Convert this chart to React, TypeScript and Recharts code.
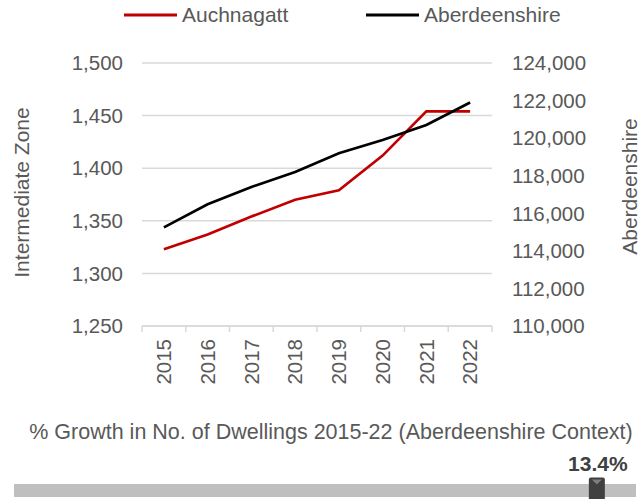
import {
  LineChart,
  Line,
  XAxis,
  YAxis,
  CartesianGrid,
  Legend,
  ComposedChart,
  Bar,
  ReferenceDot,
} from 'recharts';

const years = ['2015', '2016', '2017', '2018', '2019', '2020', '2021', '2022'];
const auchnagatt = [1323, 1337, 1354, 1370, 1379, 1412, 1454, 1454];
const aberdeenshire = [115250, 116480, 117400, 118200, 119200, 119900, 120700, 121900];
const leftTicks = [1250, 1300, 1350, 1400, 1450, 1500];
const rightTicks = [110000, 112000, 114000, 116000, 118000, 120000, 122000, 124000];

// bottom strip: growth scale and where this area sits on it
const growthTrackMax = 14.3;
const growthValue = 13.4;

const TEXT = '#595959';
const GRID = '#d9d9d9';
const FONT = '"Liberation Sans", Arial, sans-serif';
const HALF_BAND = 21.9;

const chartData = years.map((year, i) => ({
  year,
  Auchnagatt: auchnagatt[i],
  Aberdeenshire: aberdeenshire[i],
}));

const fmt = (v: number) => v.toLocaleString('en-US');

// Year labels read bottom-to-top, with Excel-style tick marks between categories
function YearTick(props: any) {
  const { x, y, payload, index } = props;
  return (
    <g>
      <line x1={x - HALF_BAND} x2={x - HALF_BAND} y1={y - 8} y2={y - 2} stroke={GRID} strokeWidth={1.5} />
      {index === years.length - 1 && (
        <line x1={x + HALF_BAND} x2={x + HALF_BAND} y1={y - 8} y2={y - 2} stroke={GRID} strokeWidth={1.5} />
      )}
      <text
        x={x}
        y={y + 5}
        transform={`rotate(-90, ${x}, ${y + 5})`}
        textAnchor="end"
        dy="0.35em"
        fill={TEXT}
        fontSize={20.5}
      >
        {payload.value}
      </text>
    </g>
  );
}

function LegendContent() {
  const items = [
    { name: 'Auchnagatt', color: '#c00000', x: 124 },
    { name: 'Aberdeenshire', color: '#000000', x: 366 },
  ];
  return (
    <svg width={644} height={30}>
      {items.map((it) => (
        <g key={it.name}>
          <line x1={it.x} x2={it.x + 53} y1={15} y2={15} stroke={it.color} strokeWidth={3} />
          <text x={it.x + 58} y={15} dy="0.35em" fill={TEXT} fontSize={21}>
            {it.name}
          </text>
        </g>
      ))}
    </svg>
  );
}

function GrowthMarker(props: any) {
  const { cx, cy } = props;
  return (
    <g>
      <rect x={cx - 8} y={cy - 13} width={16} height={24} rx={2} fill="#404040" />
      <path d={`M${cx - 5},${cy - 11} L${cx + 5},${cy - 11} L${cx},${cy - 6} Z`} fill="#7f7f7f" />
      <text x={cx + 1} y={cy - 27} dy="0.35em" textAnchor="middle" fill="#404040" fontSize={21} fontWeight="bold">
        {growthValue}%
      </text>
    </g>
  );
}

export default function App() {
  return (
    <div
      style={{
        position: 'fixed',
        top: 0,
        left: 0,
        width: 644,
        height: 499,
        background: '#fff',
        fontFamily: FONT,
        overflow: 'hidden',
      }}
    >
      <LineChart width={644} height={400} data={chartData} margin={{ top: 63, right: 0, left: 0, bottom: 0 }}>
        <CartesianGrid yAxisId="left" vertical={false} stroke={GRID} strokeWidth={1.5} />
        <XAxis
          dataKey="year"
          height={74}
          interval={0}
          padding={{ left: HALF_BAND, right: HALF_BAND }}
          tickLine={false}
          axisLine={{ stroke: GRID, strokeWidth: 1.5 }}
          tick={<YearTick />}
        />
        <YAxis
          yAxisId="left"
          width={142}
          domain={[1250, 1500]}
          ticks={leftTicks}
          tickFormatter={fmt}
          axisLine={false}
          tickLine={false}
          tickSize={0}
          tickMargin={19}
          tick={{ fill: TEXT, fontSize: 20.5 }}
          label={({ viewBox }: any) => (
            <text
              x={22}
              y={viewBox.y + viewBox.height / 2 - 2}
              transform={`rotate(-90, 22, ${viewBox.y + viewBox.height / 2 - 2})`}
              textAnchor="middle"
              dy="0.35em"
              fill={TEXT}
              fontSize={21}
            >
              Intermediate Zone
            </text>
          )}
        />
        <YAxis
          yAxisId="right"
          orientation="right"
          width={152}
          domain={[110000, 124000]}
          ticks={rightTicks}
          tickFormatter={fmt}
          axisLine={false}
          tickLine={false}
          tickSize={0}
          tickMargin={20}
          tick={{ fill: TEXT, fontSize: 20.5, textAnchor: 'start' }}
          label={({ viewBox }: any) => (
            <text
              x={630}
              y={viewBox.y + viewBox.height / 2 - 8}
              transform={`rotate(-90, 630, ${viewBox.y + viewBox.height / 2 - 8})`}
              textAnchor="middle"
              dy="0.35em"
              fill={TEXT}
              fontSize={21}
            >
              Aberdeenshire
            </text>
          )}
        />
        <Legend
          verticalAlign="middle"
          align="center"
          wrapperStyle={{ top: 0, left: 0, width: 644, height: 30 }}
          content={<LegendContent />}
        />
        <Line
          yAxisId="left"
          type="linear"
          dataKey="Auchnagatt"
          stroke="#c00000"
          strokeWidth={2.7}
          dot={false}
          isAnimationActive={false}
        />
        <Line
          yAxisId="right"
          type="linear"
          dataKey="Aberdeenshire"
          stroke="#000000"
          strokeWidth={2.7}
          dot={false}
          isAnimationActive={false}
        />
      </LineChart>

      <div
        style={{
          position: 'absolute',
          top: 418,
          left: 9,
          width: 644,
          textAlign: 'center',
          fontSize: 21.5,
          color: TEXT,
          lineHeight: '28px',
          whiteSpace: 'nowrap',
        }}
      >
        % Growth in No. of Dwellings 2015-22 (Aberdeenshire Context)
      </div>

      <div style={{ position: 'absolute', top: 440, left: 0 }}>
        <ComposedChart
          width={644}
          height={59}
          layout="vertical"
          data={[{ name: 'Aberdeenshire', growth: growthTrackMax }]}
          margin={{ top: 42, right: 8, left: 14, bottom: 0 }}
        >
          <XAxis type="number" domain={[0, growthTrackMax]} hide />
          <YAxis type="category" dataKey="name" hide />
          <Bar dataKey="growth" fill="#bfbfbf" barSize={13} isAnimationActive={false} />
          <ReferenceDot x={growthValue} y="Aberdeenshire" shape={<GrowthMarker />} ifOverflow="visible" />
        </ComposedChart>
      </div>
    </div>
  );
}
